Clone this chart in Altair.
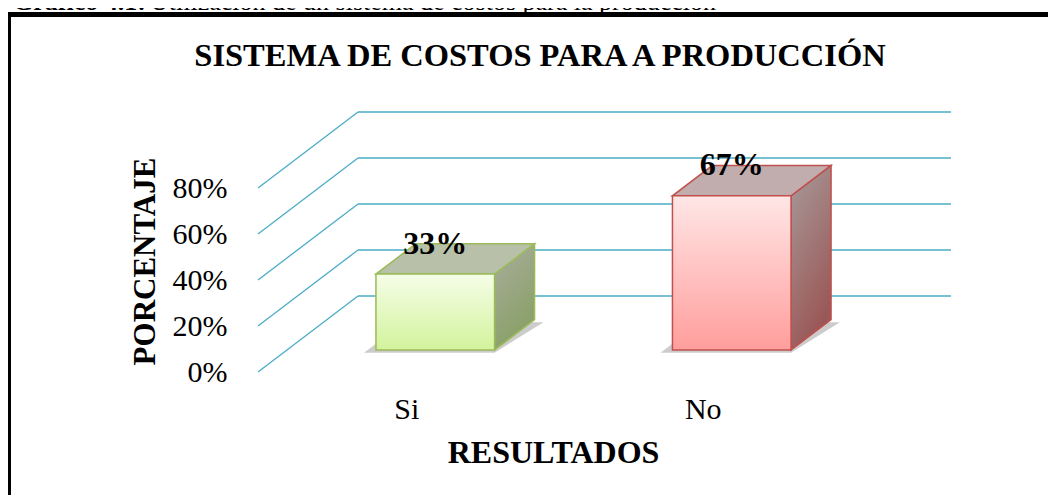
import altair as alt
import pandas as pd

# ---------------- data ----------------
categories = ["Si", "No"]
values = [33, 67]
value_labels = ["33%", "67%"]
tick_values = [0, 20, 40, 60, 80]
tick_labels = ["0%", "20%", "40%", "60%", "80%"]
chart_title = "SISTEMA DE COSTOS PARA A PRODUCCIÓN"
x_title = "RESULTADOS"
y_title = "PORCENTAJE"
caption_bold = "Gráfico 4.1:"
caption_rest = "Utilización de un sistema de costos para la producción"

# ---------------- style ----------------
FONT = "Liberation Serif"
front_colors = [("#f5fde8", "#d3f39c"), ("#ffe6e6", "#ff9e9c")]
top_colors = ["#b8c0aa", "#c1adad"]
side_colors = [("#a9ae9e", "#89a067"), ("#a89b9b", "#9a5857")]
edge_colors = ["#9bbb59", "#c0504d"]
grid_color = "#4bacc6"

PX_PER_CAT = 296.5     # pixels per category slot
PX_PER_PCT = 2.3       # pixels per percent
DX = 100 / PX_PER_CAT  # 3D depth offset in x units
DY = 76 / PX_PER_PCT   # 3D depth offset in percent units
F = 0.29               # bar front depth fraction
D = 0.40               # bar depth fraction
HW = 0.20              # half bar width (category units)

XMAX = len(categories) + DX
YMAX = 120
W = round(XMAX * PX_PER_CAT)
H = round(YMAX * PX_PER_PCT)

xs = alt.Scale(domain=[0, XMAX], nice=False, zero=False)
ys = alt.Scale(domain=[0, YMAX], nice=False, zero=False)

# ---------------- grid (3D walls) ----------------
grid_rows = []
for v in tick_values:
    grid_rows.append({"x": 0, "y": v, "x2": DX, "y2": v + DY})
    grid_rows.append({"x": DX, "y": v + DY, "x2": len(categories) + DX, "y2": v + DY})
grid_df = pd.DataFrame(grid_rows)

y_expr = " : ".join(f"datum.value == {v} ? '{t}'" for v, t in zip(tick_values, tick_labels)) + " : ''"
cat_pos = [i + 0.5 for i in range(len(categories))]
x_expr = " : ".join(f"datum.value == {p} ? '{c}'" for p, c in zip(cat_pos, categories)) + " : ''"

grid = alt.Chart(grid_df).mark_rule(color=grid_color, strokeWidth=1.3).encode(
    x=alt.X("x:Q", scale=xs, axis=alt.Axis(
        values=cat_pos, labelExpr=x_expr, title=x_title, domain=False, ticks=False, grid=False,
        labelFont=FONT, labelFontSize=30, labelColor="black", labelPadding=22, labelOverlap=False,
        titleFont=FONT, titleFontSize=32, titleFontWeight="bold", titleColor="black",
        titleX=295, titleY=80, titleBaseline="middle", titleAlign="center")),
    x2="x2:Q",
    y=alt.Y("y:Q", scale=ys, axis=alt.Axis(
        values=tick_values, labelExpr=y_expr, title=y_title, domain=False, ticks=False, grid=False,
        labelFont=FONT, labelFontSize=30, labelColor="black", labelPadding=31, labelOverlap=False,
        titleFont=FONT, titleFontSize=31, titleFontWeight="bold", titleColor="black",
        titleX=-113, titleY=165, titleBaseline="middle", titleAlign="center", titleAngle=-90)),
    y2="y2:Q",
)

layers = [grid]


def grad(top, bottom, x2=0, y2=1):
    return alt.LinearGradient(
        gradient="linear",
        stops=[alt.GradientStop(color=top, offset=0), alt.GradientStop(color=bottom, offset=1)],
        x1=0, y1=0, x2=x2, y2=y2,
    )


for i, (cat, val) in enumerate(zip(categories, values)):
    c = i + 0.5
    L = c - HW + F * DX
    R = c + HW + F * DX
    yb = F * DY
    yt = val + F * DY
    ex, ey = D * DX, D * DY

    # shadow (floor footprint)
    shadow_df = pd.DataFrame([
        {"y": yb - 1.2, "x": L - 0.04, "x2": R},
        {"y": yb + ey - 1.2, "x": L - 0.04 + ex, "x2": R + ex + 0.03},
    ])
    layers.append(alt.Chart(shadow_df).mark_area(orient="horizontal", color="#555555", opacity=0.3).encode(
        y=alt.Y("y:Q", scale=ys), x=alt.X("x:Q", scale=xs), x2="x2:Q"))

    # side face
    side_df = pd.DataFrame([
        {"x": R, "y": yb, "y2": yt},
        {"x": R + ex, "y": yb + ey, "y2": yt + ey},
    ])
    layers.append(alt.Chart(side_df).mark_area(
        orient="vertical", fill=grad(side_colors[i][0], side_colors[i][1], x2=0.4, y2=1),
        stroke=edge_colors[i], strokeWidth=1.5, strokeJoin="miter").encode(
        x=alt.X("x:Q", scale=xs), y=alt.Y("y:Q", scale=ys), y2="y2:Q"))

    # top face
    top_df = pd.DataFrame([
        {"y": yt, "x": L, "x2": R},
        {"y": yt + ey, "x": L + ex, "x2": R + ex},
    ])
    layers.append(alt.Chart(top_df).mark_area(
        orient="horizontal", fill=top_colors[i], stroke=edge_colors[i], strokeWidth=1.5).encode(
        y=alt.Y("y:Q", scale=ys), x=alt.X("x:Q", scale=xs), x2="x2:Q"))

    # front face
    front_df = pd.DataFrame([{"x": L, "x2": R, "y": yb, "y2": yt}])
    layers.append(alt.Chart(front_df).mark_rect(
        fill=grad(front_colors[i][0], front_colors[i][1]), stroke=edge_colors[i], strokeWidth=1.5).encode(
        x=alt.X("x:Q", scale=xs), x2="x2:Q", y=alt.Y("y:Q", scale=ys), y2="y2:Q"))

# value labels
lab_df = pd.DataFrame({
    "x": [i + 0.5 + F * DX for i in range(len(categories))],
    "y": [v + (F + D) * DY for v in values],
    "label": value_labels,
})
layers.append(alt.Chart(lab_df).mark_text(
    font=FONT, fontSize=32, fontWeight="bold", color="black", baseline="middle", align="center").encode(
    x=alt.X("x:Q", scale=xs), y=alt.Y("y:Q", scale=ys), text="label:N"))

# chart title
title_mark = alt.Chart(pd.DataFrame({"t": [chart_title]})).mark_text(
    font=FONT, fontSize=32.5, fontWeight="bold", color="black", align="center", baseline="middle").encode(
    x=alt.value(282), y=alt.value(-40), text="t:N")

# outer frame (left and top border) and figure caption
frame_left = alt.Chart(pd.DataFrame({"k": [0]})).mark_rule(color="black", strokeWidth=3).encode(
    x=alt.value(-248.5), y=alt.value(-84), y2=alt.value(H + 140))
frame_top = alt.Chart(pd.DataFrame({"k": [0]})).mark_rule(color="black", strokeWidth=5).encode(
    x=alt.value(-250), x2=alt.value(W + 100), y=alt.value(-81.5))
cap_b = alt.Chart(pd.DataFrame({"t": [caption_bold]})).mark_text(
    font=FONT, fontSize=26, fontWeight="bold", color="black", align="left", baseline="alphabetic").encode(
    x=alt.value(-245), y=alt.value(-86), text="t:N")
cap_r = alt.Chart(pd.DataFrame({"t": [caption_rest]})).mark_text(
    font=FONT, fontSize=26, color="black", align="left", baseline="alphabetic").encode(
    x=alt.value(-108), y=alt.value(-86), text="t:N")
layers += [title_mark, frame_left, frame_top, cap_b, cap_r]

chart = alt.layer(*layers).properties(
    width=W, height=H,
    autosize=alt.AutoSizeParams(type="none"),
    padding={"left": 250, "top": 88, "right": 1040 - 250 - W, "bottom": 487 - 88 - H},
).configure(background="white").configure_view(stroke="transparent", strokeWidth=0)

chart.save("out.html", embed_options={"renderer": "svg", "actions": False})
